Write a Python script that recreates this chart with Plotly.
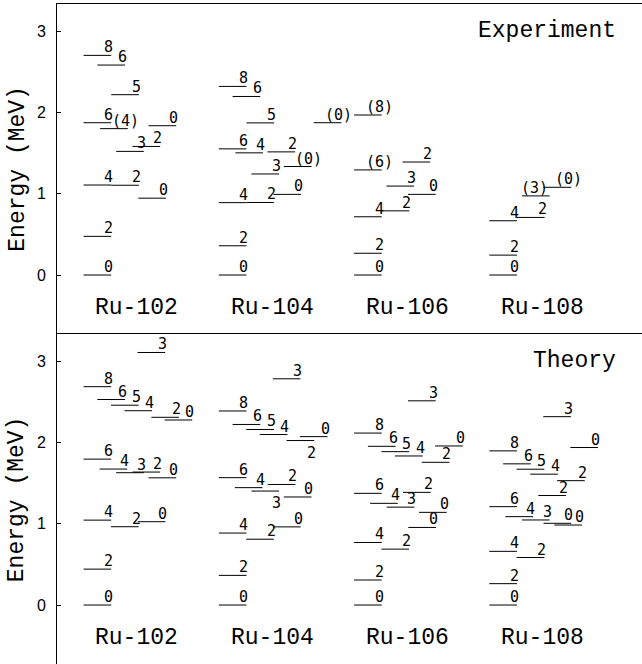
import plotly.graph_objects as go

# ---------------- data ----------------
nuclei = ["Ru-102", "Ru-104", "Ru-106", "Ru-108"]
nucleus_x = [0.0, 4.89, 9.78, 14.67]

# Experiment: energies (MeV), spin labels, column offsets (in level widths)
exp102_E = [0, 0.476, 1.108, 1.105, 0.946, 1.522, 1.583, 1.875, 1.802, 1.838, 2.220, 2.704, 2.585]
exp102_J = ["0", "2", "4", "2", "0", "3", "2", "6", "(4)", "0", "5", "8", "6"]
exp102_col = [0, 0, 0, 1.0, 1.98, 1.18, 1.77, 0, 0.6, 2.35, 1.0, 0, 0.5]

exp104_E = [0, 0.360, 0.891, 0.893, 0.993, 1.244, 1.336, 1.553, 1.504, 1.516, 1.873, 1.875, 2.322, 2.198]
exp104_J = ["0", "2", "4", "2", "0", "3", "(0)", "6", "4", "2", "5", "(0)", "8", "6"]
exp104_col = [0, 0, 0, 1.0, 1.97, 1.18, 2.35, 0, 0.6, 1.76, 1.0, 3.43, 0, 0.5]

exp106_E = [0, 0.268, 0.717, 0.790, 0.993, 1.095, 1.294, 1.391, 1.970]
exp106_J = ["0", "2", "4", "2", "0", "3", "(6)", "2", "(8)"]
exp106_col = [0, 0, 0, 1.0, 1.95, 1.17, 0, 1.75, 0]

exp108_E = [0, 0.245, 0.668, 0.709, 0.974, 1.080]
exp108_J = ["0", "2", "4", "2", "(3)", "(0)"]
exp108_col = [0, 0, 0, 1.0, 1.18, 1.96]

# Theory
theory_J = ["0", "2", "4", "2", "0", "6", "4", "3", "2", "0", "8", "6", "5", "4", "2", "0", "3"]
theory_col = [0, 0, 0, 0.99, 1.96, 0, 0.58, 1.18, 1.77, 2.35, 0, 0.5, 0.99, 1.48, 2.45, 2.93, 1.95]
th102_E = [0, 0.442, 1.045, 0.964, 1.026, 1.796, 1.674, 1.629, 1.637, 1.566, 2.688, 2.530, 2.460, 2.392, 2.311, 2.278, 3.109]
th104_E = [0, 0.365, 0.886, 0.810, 0.962, 1.568, 1.445, 1.403, 1.484, 1.330, 2.389, 2.223, 2.161, 2.099, 2.025, 2.073, 2.785]
th106_E = [0, 0.308, 0.770, 0.688, 0.955, 1.375, 1.252, 1.205, 1.387, 1.141, 2.117, 1.954, 1.888, 1.835, 1.757, 1.958, 2.514]
th108_E = [0, 0.263, 0.661, 0.585, 1.006, 1.211, 1.088, 1.047, 1.348, 0.985, 1.898, 1.738, 1.672, 1.611, 1.531, 1.939, 2.319]

y_ticks = [0, 1, 2, 3]

# ---------------- styling ----------------
MONO = "Liberation Mono"
LABEL_FONT = dict(family="DejaVu Sans Mono", size=15, color="black")
LEVEL_WIDTH = 1.0
# label placement exceptions: (panel, nucleus index, level index) -> mode
label_mode = {("Theory", 1, 7): "below", ("Theory", 1, 14): "below", ("Experiment", 3, 4): "left"}

panels = [
    ("Experiment", "x", "y", [
        (exp102_E, exp102_J, exp102_col),
        (exp104_E, exp104_J, exp104_col),
        (exp106_E, exp106_J, exp106_col),
        (exp108_E, exp108_J, exp108_col),
    ]),
    ("Theory", "x2", "y2", [
        (th102_E, theory_J, theory_col),
        (th104_E, theory_J, theory_col),
        (th106_E, theory_J, theory_col),
        (th108_E, theory_J, theory_col),
    ]),
]

fig = go.Figure()
annotations = []

for name, xa, ya, groups in panels:
    xs, ys = [], []
    for ni, (E, J, col) in enumerate(groups):
        base = nucleus_x[ni]
        for li, (e, j, c) in enumerate(zip(E, J, col)):
            x0 = base + c
            x1 = x0 + LEVEL_WIDTH
            xs += [x0, x1, None]
            ys += [e, e, None]
            mode = label_mode.get((name, ni, li), "above")
            ann = dict(x=x1, y=e, xref=xa, yref=ya, text=j, showarrow=False,
                       font=LABEL_FONT, xanchor="center")
            if mode == "below":
                ann.update(yanchor="top", yshift=-1, xshift=-3)
            elif mode == "left":
                ann.update(yanchor="bottom", yshift=-3, xshift=-15)
            else:
                ann.update(yanchor="bottom", yshift=-3, xshift=-2.5)
            annotations.append(ann)
        annotations.append(dict(x=base + 1.93, y=-0.406, xref=xa, yref=ya, text=nuclei[ni],
                                showarrow=False, font=dict(family=MONO, size=23, color="black"),
                                xanchor="center", yanchor="middle"))
    fig.add_trace(go.Scatter(x=xs, y=ys, mode="lines", xaxis=xa, yaxis=ya,
                             line=dict(color="black", width=1), hoverinfo="skip",
                             showlegend=False))
    annotations.append(dict(x=19.33, y=3.0, xref=xa, yref=ya, text=name, showarrow=False,
                            font=dict(family=MONO, size=23, color="black"),
                            xanchor="right", yanchor="middle"))
    annotations.append(dict(x=-0.068, y=0.5, xref="paper", yref=ya + " domain",
                            text="Energy (MeV)", textangle=-90, showarrow=False,
                            font=dict(family=MONO, size=23, color="black"),
                            xanchor="center", yanchor="middle"))

xaxis_common = dict(range=[-0.96, 20.19], showline=True, linecolor="black", linewidth=1,
                    side="top", showticklabels=False, ticks="", showgrid=False,
                    zeroline=False, fixedrange=True)
yaxis_common = dict(tickvals=y_ticks, ticks="inside", ticklen=4, tickcolor="black",
                    showline=True, linecolor="black", linewidth=1, showgrid=False,
                    zeroline=False, ticklabelstandoff=7,
                    tickfont=dict(family="Liberation Sans", size=16, color="black"))

fig.update_layout(
    width=642, height=664,
    margin=dict(l=57, r=0, t=4, b=0),
    paper_bgcolor="white", plot_bgcolor="white",
    xaxis=dict(anchor="y", domain=[0, 1], **xaxis_common),
    yaxis=dict(anchor="x", domain=[0.5015, 1], range=[-0.714, 3.3366], **yaxis_common),
    xaxis2=dict(anchor="y2", domain=[0, 1], **xaxis_common),
    yaxis2=dict(anchor="x2", domain=[0, 0.5], range=[-0.726, 3.3366], **yaxis_common),
    annotations=annotations,
    showlegend=False,
)

fig.write_html("out.html")
